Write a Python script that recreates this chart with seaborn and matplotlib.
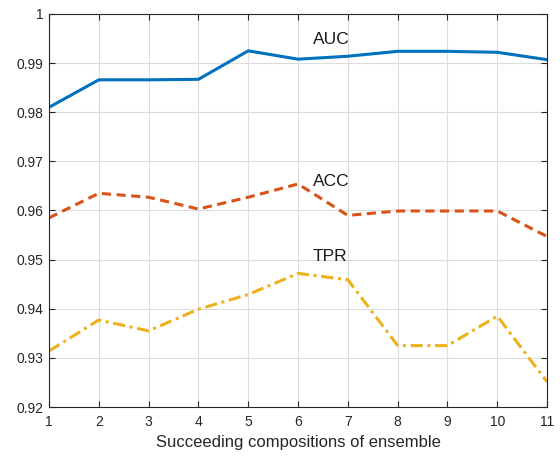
import numpy as np
import matplotlib
matplotlib.use("Agg")
import matplotlib.pyplot as plt
import seaborn as sns
import pandas as pd

# values
compositions = [1, 2, 3, 4, 5, 6, 7, 8, 9, 10, 11]
auc = [0.9810, 0.9866, 0.9866, 0.9867, 0.9925, 0.9908, 0.9914, 0.9924, 0.9924, 0.9922, 0.9907]
acc = [0.9585, 0.9635, 0.9627, 0.9603, 0.9627, 0.9654, 0.9590, 0.9599, 0.9599, 0.9599, 0.9547]
tpr = [0.9314, 0.9377, 0.9355, 0.9399, 0.9429, 0.9472, 0.9459, 0.9325, 0.9325, 0.9385, 0.9251]

sns.set_style("white")
plt.rcParams['font.family'] = ['Liberation Sans', 'DejaVu Sans']

df = pd.DataFrame({'x': compositions, 'AUC': auc, 'ACC': acc, 'TPR': tpr})
long = df.melt(id_vars='x', var_name='metric', value_name='value')

fig = plt.figure(figsize=(5.6, 4.57), dpi=100)
ax = fig.add_axes([0.0875, 0.1094, 0.8895, 0.86])

palette = {'AUC': '#0072BD', 'ACC': '#D95319', 'TPR': '#EDB120'}
dashes = {'AUC': '', 'ACC': (3, 1.8), 'TPR': (4, 1.5, 1, 1.5)}
sns.lineplot(data=long, x='x', y='value', hue='metric', style='metric',
             palette=palette, dashes=dashes, linewidth=2.2, legend=False, ax=ax)

# text labels inside the plot
ax.text(6.3, 0.9948, 'AUC', fontsize=12.5, color='#1a1a1a', va='center', ha='left')
ax.text(6.3, 0.9660, 'ACC', fontsize=12.5, color='#1a1a1a', va='center', ha='left')
ax.text(6.3, 0.9507, 'TPR', fontsize=12.5, color='#1a1a1a', va='center', ha='left')

ax.set_xlim(1, 11)
ax.set_ylim(0.92, 1.0)
ax.set_xticks(compositions)
ax.set_yticks(np.arange(0.92, 1.0001, 0.01))
ax.set_yticklabels(['0.92', '0.93', '0.94', '0.95', '0.96', '0.97', '0.98', '0.99', '1'])
ax.grid(True, color='#dcdcdc', linewidth=0.8)
ax.tick_params(direction='in', length=4, colors='#262626', labelsize=10,
               top=True, right=True, bottom=True, left=True)
ax.tick_params(axis='x', pad=6)
ax.tick_params(axis='y', pad=4)
for s in ax.spines.values():
    s.set_color('#262626')
    s.set_linewidth(0.8)
ax.set_xlabel('Succeeding compositions of ensemble', fontsize=12, color='#262626', labelpad=4)
ax.set_ylabel('')

fig.savefig('out.png', dpi=100)
